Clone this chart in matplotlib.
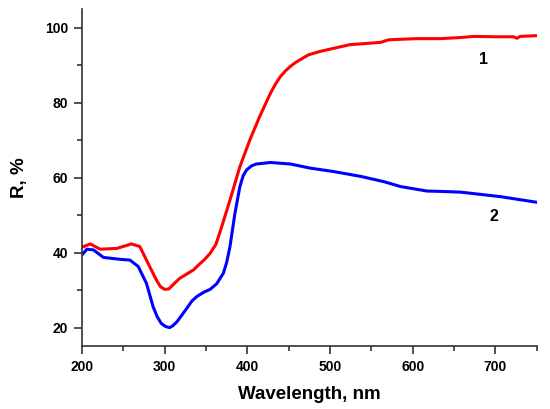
import matplotlib
matplotlib.use("Agg")
import matplotlib.pyplot as plt
from matplotlib.ticker import MultipleLocator

plt.rcParams['font.family'] = ['Liberation Sans', 'DejaVu Sans']

wl1 = [200, 202, 210, 222, 242, 260, 270, 278, 285, 290, 295, 300, 305, 310, 318, 335, 340, 348, 355, 362,
       369, 379, 391, 403, 415, 428, 434, 440, 446, 452, 458, 464, 474, 488, 524, 561, 571, 605, 633,
       658, 674, 700, 722, 726, 730, 750]
r1 = [41.5, 41.7, 42.4, 41.0, 41.2, 42.4, 41.7, 38.1, 35.0, 32.8, 31.0, 30.3, 30.4, 31.5, 33.2, 35.5, 36.6, 38.2, 39.9, 42.3,
      47.0, 54.1, 63.0, 70.1, 76.4, 82.6, 85.0, 87.0, 88.5, 89.7, 90.7, 91.5, 92.8, 93.7, 95.5, 96.1, 96.8, 97.1, 97.1,
      97.4, 97.7, 97.6, 97.6, 97.2, 97.7, 97.9]

wl2 = [200, 206, 214, 226, 246, 258, 268, 278, 286, 291, 296, 301, 306, 310, 315, 321, 327, 333, 339, 347, 355, 363, 371,
       375, 379, 385, 391, 395, 399, 405, 411, 428, 452, 476, 504, 537, 565, 585, 617, 633, 658, 706, 750]
r2 = [39.5, 41.0, 40.8, 38.8, 38.3, 38.1, 36.4, 31.9, 25.7, 23.0, 21.2, 20.4, 20.1, 20.6, 21.7, 23.5, 25.3, 27.2, 28.4, 29.5, 30.3, 31.8, 34.6,
      37.5, 41.7, 50.6, 57.7, 60.6, 62.1, 63.2, 63.7, 64.1, 63.7, 62.6, 61.7, 60.4, 59.0, 57.7, 56.5, 56.4, 56.2, 55.0, 53.5]

curve_labels = ["1", "2"]
label_pos = [(685, 91.5), (698, 49.7)]

fig = plt.figure(figsize=(5.5, 4.09), dpi=100)
ax = fig.add_axes([0.149, 0.154, 0.827, 0.824])

ax.plot(wl1, r1, color='#ff0000', lw=2.2)
ax.plot(wl2, r2, color='#0000ff', lw=2.2)

for lab, (x, y) in zip(curve_labels, label_pos):
    ax.text(x, y, lab, fontsize=11.5, fontweight='bold', ha='center', va='center')

ax.set_xlim(200, 750)
ax.set_ylim(15.2, 105)
ax.xaxis.set_major_locator(MultipleLocator(100))
ax.xaxis.set_minor_locator(MultipleLocator(50))
ax.yaxis.set_major_locator(MultipleLocator(20))
ax.yaxis.set_minor_locator(MultipleLocator(10))

for s in ['top', 'right']:
    ax.spines[s].set_visible(False)
for s in ['left', 'bottom']:
    ax.spines[s].set_linewidth(1.2)
    ax.spines[s].set_color('#333333')

ax.tick_params(which='major', direction='out', length=6, width=1.2, color='#333333',
               labelsize=10, pad=4)
ax.tick_params(which='minor', direction='out', length=3.5, width=1.2, color='#333333')
for lbl in ax.get_xticklabels() + ax.get_yticklabels():
    lbl.set_fontweight('bold')

ax.set_xlabel('Wavelength, nm', fontsize=13.5, fontweight='bold', labelpad=9)
ax.set_ylabel('R, %', fontsize=13.5, fontweight='bold', labelpad=12)

fig.savefig('out.png', dpi=100)
